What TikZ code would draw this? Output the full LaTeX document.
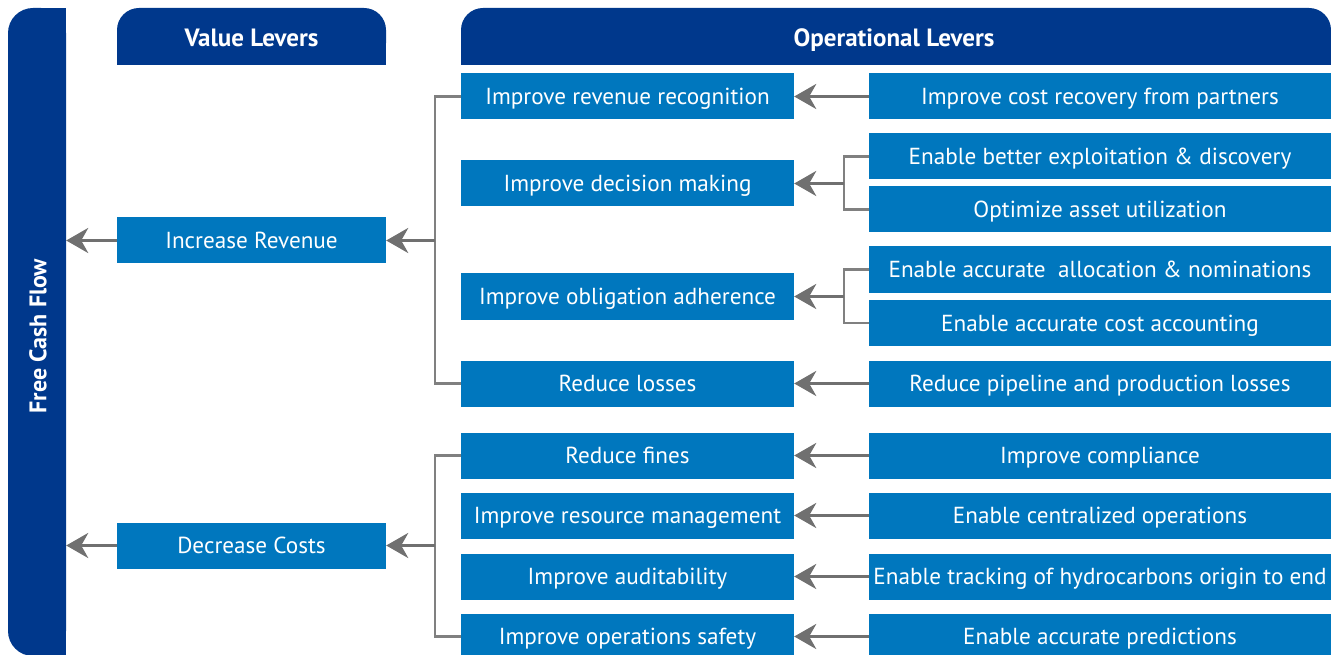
\documentclass[tikz,border=0pt]{standalone}
\usepackage{fontspec}
\setmainfont{PT Sans}
\usetikzlibrary{arrows.meta}
\definecolor{dkblue}{RGB}{0,56,140}
\definecolor{mdblue}{RGB}{0,119,190}
\definecolor{arrgray}{RGB}{112,112,112}
\definecolor{brkgray}{RGB}{128,128,128}
\begin{document}
\begin{tikzpicture}[x=1pt,y=-1pt,
  txt/.style={font=\fontsize{23.2}{27}\selectfont, text height=16pt, text depth=0pt},
  box/.style={txt, fill=mdblue, text=white, inner sep=0pt, minimum height=46pt},
  midbox/.style={box, minimum width=333pt},
  rbox/.style={box, minimum width=462pt},
  vbox/.style={box, minimum width=269pt},
  hdr/.style={text=white, inner sep=0pt, font=\fontsize{25}{29}\selectfont\bfseries, text height=17.5pt, text depth=0pt},
  fcfstyle/.style={text=white, inner sep=0pt, font=\fontsize{24}{28}\selectfont\bfseries, text height=16.8pt, text depth=0pt},
  arr/.style={draw=arrgray, line width=3.3pt, -{Stealth[length=22pt,width=25pt,inset=7pt]}},
  brk/.style={draw=brkgray, line width=2.5pt}
]
\useasboundingbox (0,0) rectangle (1331,655);
\clip (0,0) rectangle (1331,655);

% Free cash flow bar
\fill[dkblue, rounded corners=25pt] (8,8) rectangle (66,656);
\fill[dkblue] (40,8) rectangle (66,656);
\node (fcf) [minimum width=58pt, minimum height=648pt, inner sep=0pt] at (37,332) {};
\node (fcft) [fcfstyle, rotate=90] at (38,336) {Free Cash Flow};

% headers
\fill[dkblue, rounded corners=22pt] (117,8) rectangle (386,65);
\fill[dkblue] (117,40) rectangle (386,65);
\node (vl) [hdr] at (251.5,37.5) {Value Levers};
\fill[dkblue, rounded corners=22pt] (461,8) rectangle (1331,65);
\fill[dkblue] (461,40) rectangle (1331,65);
\node (ol) [hdr] at (894,37.5) {Operational Levers};

% value levers
\node (ir) [vbox] at (251.5,240.5) {Increase Revenue};
\node (dc) [vbox] at (251.5,545.5) {Decrease Costs};

% middle column
\node (rr) [midbox] at (627.5,96.5) {Improve revenue recognition};
\node (dm) [midbox] at (627.5,183.5) {Improve decision making};
\node (oa) [midbox] at (627.5,296.5) {Improve obligation adherence};
\node (rl) [midbox] at (627.5,383.5) {Reduce losses};
\node (rf) [midbox] at (627.5,455.5) {Reduce fines};
\node (rm) [midbox] at (627.5,515.5) {Improve resource management};
\node (au) [midbox] at (627.5,576.5) {Improve auditability};
\node (os) [midbox] at (627.5,636.5) {Improve operations safety};

% right column
\node (cr) [rbox] at (1100,96.5) {Improve cost recovery from partners};
\node (ex) [rbox] at (1100,156.5) {Enable better exploitation \& discovery};
\node (ou) [rbox] at (1100,209.5) {Optimize asset utilization};
\node (an) [rbox] at (1100,269.5) {Enable accurate~ allocation \& nominations};
\node (ca) [rbox] at (1100,323) {Enable accurate cost accounting};
\node (pl) [rbox] at (1100,383.5) {Reduce pipeline and production losses};
\node (co) [rbox] at (1100,455.5) {Improve compliance};
\node (ce) [rbox] at (1100,515.5) {Enable centralized operations};
\node (tr) [rbox] at (1100,576.5) {Enable tracking of hydrocarbons origin to end};
\node (pr) [rbox] at (1100,636.5) {Enable accurate predictions};

% value levers to FCF
\draw[arr] (ir.west) -- (ir.west -| fcf.east);
\draw[arr] (dc.west) -- (dc.west -| fcf.east);

% left brackets
\coordinate (b1) at (435,240.5);
\draw[brk] (rr.west) -| (b1) |- (rl.west);
\draw[arr] (b1) -- (ir.east);
\coordinate (b2) at (435,545.5);
\draw[brk] (rf.west) -| (b2) |- (os.west);
\draw[arr] (b2) -- (dc.east);

% right connectors
\draw[arr] (cr.west) -- (rr.east);
\coordinate (j1) at (844,183.5);
\draw[brk] (ex.west) -| (j1) |- (ou.west);
\draw[arr] (j1) -- (dm.east);
\coordinate (j2) at (844,296.5);
\draw[brk] (an.west) -| (j2) |- (ca.west);
\draw[arr] (j2) -- (oa.east);
\draw[arr] (pl.west) -- (rl.east);
\draw[arr] (co.west) -- (rf.east);
\draw[arr] (ce.west) -- (rm.east);
\draw[arr] (tr.west) -- (au.east);
\draw[arr] (pr.west) -- (os.east);
\end{tikzpicture}
\end{document}
